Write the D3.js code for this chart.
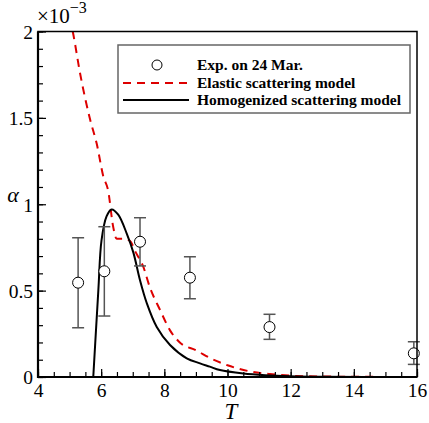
<!DOCTYPE html>
<html>
<head>
<meta charset="utf-8">
<script src="https://cdn.jsdelivr.net/npm/d3@7"></script>
<style>
body { margin: 0; background: #fff; }
svg { display: block; }
</style>
</head>
<body>
<svg id="chart" width="429" height="423"></svg>
<script>
// experiment, 24 Mar. (alpha in units of 1e-3)
var expT     = [5.27, 6.10, 7.23, 8.81, 11.33, 15.9];
var expAlpha = [0.546, 0.612, 0.783, 0.575, 0.289, 0.137];
var expHigh  = [0.806, 0.870, 0.922, 0.696, 0.363, 0.204];
var expLow   = [0.285, 0.353, 0.643, 0.453, 0.218, 0.073];

// elastic scattering model (red dashed)
var elasticT     = [5.0, 5.10, 5.33, 5.65, 5.86, 6.07, 6.22, 6.38, 6.49, 6.70, 6.90, 7.10, 7.33, 7.54, 7.86, 8.18, 8.49, 9.0, 9.5, 10.0, 10.7, 11.34, 11.97, 12.6, 13.5, 16];
var elasticAlpha = [2.08, 2.0, 1.76, 1.49, 1.35, 1.16, 1.08, 0.87, 0.80, 0.80, 0.79, 0.72, 0.64, 0.52, 0.39, 0.27, 0.20, 0.155, 0.105, 0.068, 0.033, 0.017, 0.008, 0.004, 0.002, 0.0];

// homogenized scattering model (black solid)
var homT     = [5.75, 5.91, 6.01, 6.17, 6.33, 6.54, 6.81, 7.02, 7.23, 7.44, 7.76, 8.18, 8.71, 9.13, 9.44, 9.76, 10.5, 11.2, 12.0, 13.0, 16];
var homAlpha = [0.0, 0.50, 0.79, 0.93, 0.97, 0.94, 0.83, 0.72, 0.56, 0.43, 0.29, 0.185, 0.108, 0.079, 0.06, 0.04, 0.02, 0.01, 0.004, 0.001, 0.0];

var xTicks = [4, 6, 8, 10, 12, 14, 16];
var yTicks = [0, 0.5, 1, 1.5, 2];
var legendLabels = ["Exp. on 24 Mar.", "Elastic scattering model", "Homogenized scattering model"];

var serif = "'Liberation Serif', 'Times New Roman', serif";
var pLeft = 38, pRight = 417, pTop = 31.5, pBottom = 377;
var svg = d3.select("#chart");

var xScale = d3.scaleLinear().domain([4, 16]).range([pLeft, pRight]);
var yScale = d3.scaleLinear().domain([0, 2]).range([pBottom, pTop]);

svg.append("clipPath").attr("id", "plotclip")
    .append("rect")
    .attr("x", pLeft).attr("y", pTop)
    .attr("width", pRight - pLeft).attr("height", pBottom - pTop);

var line = d3.line()
    .x(function(d) { return xScale(d[0]); })
    .y(function(d) { return yScale(d[1]); });

var plot = svg.append("g").attr("clip-path", "url(#plotclip)");

plot.append("path")
    .datum(d3.zip(elasticT, elasticAlpha))
    .attr("d", line.curve(d3.curveMonotoneX))
    .attr("fill", "none")
    .attr("stroke", "#dd0000")
    .attr("stroke-width", 2)
    .attr("stroke-dasharray", "8,6");

plot.append("path")
    .datum(d3.zip(homT, homAlpha))
    .attr("d", line.curve(d3.curveCatmullRom))
    .attr("fill", "none")
    .attr("stroke", "#000")
    .attr("stroke-width", 2);

// error bars + circles
var pts = expT.map(function(t, i) {
    return { t: t, a: expAlpha[i], hi: expHigh[i], lo: expLow[i] };
});
var eb = svg.append("g").attr("stroke", "#555").attr("stroke-width", 1.5);
pts.forEach(function(d) {
    var x = xScale(d.t);
    eb.append("line").attr("x1", x).attr("x2", x).attr("y1", yScale(d.hi)).attr("y2", yScale(d.lo));
    eb.append("line").attr("x1", x - 6).attr("x2", x + 6).attr("y1", yScale(d.hi)).attr("y2", yScale(d.hi));
    eb.append("line").attr("x1", x - 6).attr("x2", x + 6).attr("y1", yScale(d.lo)).attr("y2", yScale(d.lo));
});
svg.append("g").selectAll("circle")
    .data(pts)
    .enter().append("circle")
    .attr("cx", function(d) { return xScale(d.t); })
    .attr("cy", function(d) { return yScale(d.a); })
    .attr("r", 5.5)
    .attr("fill", "#fff")
    .attr("stroke", "#000")
    .attr("stroke-width", 1);

// axes: ticks point inward
var xAxis = d3.axisBottom(xScale).tickValues(xTicks).tickSize(-8).tickPadding(4)
    .tickFormat(d3.format("d"));
var xMinor = d3.axisBottom(xScale).tickValues(d3.range(4, 16.01, 0.5)).tickSize(-5).tickFormat("");
var yAxis = d3.axisLeft(yScale).tickValues(yTicks).tickSize(-8).tickPadding(4)
    .tickFormat(function(d) { return d; });
var yMinor = d3.axisLeft(yScale).tickValues(d3.range(0, 2.001, 0.1)).tickSize(-5).tickFormat("");

function styleAxis(g) {
    g.select(".domain").remove();
    g.attr("font-family", null);
    g.selectAll("line").attr("stroke", "#000").attr("stroke-width", 1.2);
    g.selectAll("text").attr("fill", "#000").attr("font-family", "Liberation Serif")
        .style("font-family", serif).style("font-size", "19.5px");
}
svg.append("g").attr("transform", "translate(0," + pBottom + ")").call(xMinor).call(styleAxis);
svg.append("g").attr("transform", "translate(0," + pBottom + ")").call(xAxis).call(styleAxis)
    .selectAll("text").attr("y", 4).attr("dy", "0.8em");
svg.append("g").attr("transform", "translate(" + pLeft + ",0)").call(yMinor).call(styleAxis);
svg.append("g").attr("transform", "translate(" + pLeft + ",0)").call(yAxis).call(styleAxis)
    .selectAll("text").attr("x", -5).attr("dy", "0.35em");

// frame
svg.append("rect")
    .attr("x", pLeft).attr("y", pTop)
    .attr("width", pRight - pLeft).attr("height", pBottom - pTop)
    .attr("fill", "none").attr("stroke", "#000").attr("stroke-width", 1.5);
svg.append("line").attr("x1", pLeft).attr("x2", pLeft).attr("y1", pTop).attr("y2", pBottom + 1)
    .attr("stroke", "#000").attr("stroke-width", 2.2);
svg.append("line").attr("x1", pLeft - 1).attr("x2", pRight).attr("y1", pBottom).attr("y2", pBottom)
    .attr("stroke", "#000").attr("stroke-width", 2.2);

// exponent label
var expo = svg.append("text").attr("x", 37).attr("y", 23)
    .attr("font-family", "Liberation Serif").style("font-family", serif).style("font-size", "21px");
expo.append("tspan").text("\u00d710");
expo.append("tspan").attr("dy", -10).style("font-size", "16px").text("\u22123");

// axis titles
svg.append("text").attr("x", 13).attr("y", 202).attr("text-anchor", "middle")
    .attr("font-family", "Liberation Serif").style("font-family", serif)
    .style("font-size", "22px").style("font-style", "italic").text("\u03b1");
svg.append("text").attr("x", 231).attr("y", 419).attr("text-anchor", "middle")
    .attr("font-family", "Liberation Serif").style("font-family", serif)
    .style("font-size", "23px").style("font-style", "italic").text("T");

// legend
var lg = svg.append("g");
lg.append("rect").attr("x", 118).attr("y", 45).attr("width", 292).attr("height", 68)
    .attr("fill", "#fff").attr("stroke", "#666").attr("stroke-width", 1.5);
var rowY = [65, 83, 100];
lg.append("circle").attr("cx", 157).attr("cy", rowY[0]).attr("r", 5)
    .attr("fill", "#fff").attr("stroke", "#000").attr("stroke-width", 1);
lg.append("line").attr("x1", 123).attr("x2", 189).attr("y1", rowY[1]).attr("y2", rowY[1])
    .attr("stroke", "#dd0000").attr("stroke-width", 2).attr("stroke-dasharray", "8,6");
lg.append("line").attr("x1", 123).attr("x2", 189).attr("y1", rowY[2]).attr("y2", rowY[2])
    .attr("stroke", "#000").attr("stroke-width", 2);
lg.selectAll("text.lab")
    .data(legendLabels)
    .enter().append("text")
    .attr("class", "lab")
    .attr("x", 197)
    .attr("y", function(d, i) { return rowY[i]; })
    .attr("dy", "0.35em")
    .attr("font-family", "Liberation Serif")
    .style("font-family", serif)
    .style("font-size", "15.5px")
    .style("font-weight", "bold")
    .text(function(d) { return d; });
</script>
</body>
</html>
